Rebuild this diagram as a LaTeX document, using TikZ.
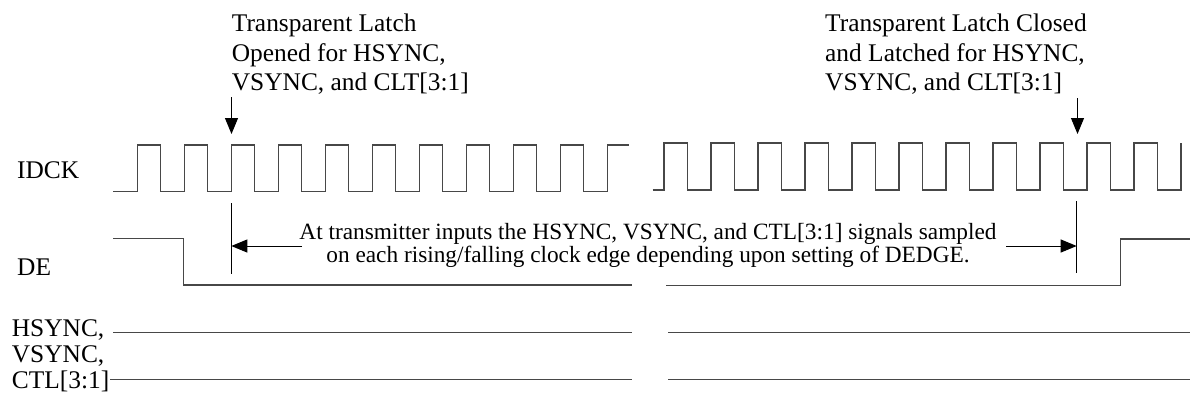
\documentclass[tikz,border=0pt]{standalone}
\usepackage{fontspec}
\setmainfont{Liberation Serif}
\usetikzlibrary{arrows.meta}
\begin{document}
\begin{tikzpicture}[x=1pt,y=-1pt,
  sig/.style={line width=1.3pt, draw=black!72, line join=miter},
  lbl/.style={font=\fontsize{25.4}{29.5}\selectfont, inner sep=0pt, align=left},
  side/.style={font=\fontsize{25.4}{26}\selectfont, inner sep=0pt, align=left},
  midtext/.style={font=\fontsize{23.3}{23}\selectfont, inner sep=0pt, align=center},
  markline/.style={line width=1pt, draw=black},
  arr/.style={-{Triangle[length=16pt,width=13pt]}, line width=1pt, draw=black}
]
\useasboundingbox (0,0) rectangle (1190,400);

% signal names
\node[lbl, anchor=west] (idck) at (17,170) {IDCK};
\node[lbl, anchor=west] (de) at (17,267) {DE};
\node[side, anchor=west] (sync) at (11.7,356) {HSYNC,\\VSYNC,\\CTL[3:1]};

% top labels (base anchor = last line baseline)
\node[lbl, anchor=base west] (open) at (231.7,90.7) {Transparent Latch\\Opened for HSYNC,\\VSYNC, and CLT[3:1]};
\node[lbl, anchor=base west] (close) at (825,90.7) {Transparent Latch Closed\\and Latched for HSYNC,\\VSYNC, and CLT[3:1]};

% IDCK left part
\draw[sig] (113.3,191.5)
  \foreach \k in {0,...,9} { -- ({137.3+47*\k},191.5) -- ({137.3+47*\k},145) -- ({160.8+47*\k},145) -- ({160.8+47*\k},191.5) }
  -- (607.3,191.5) -- (607.3,145) -- (629,145);
% IDCK right part
\draw[sig] (652.7,190)
  \foreach \k in {0,...,10} { -- ({664+47*\k},190) -- ({664+47*\k},143) -- ({687.5+47*\k},143) -- ({687.5+47*\k},190) }
  -- (1181,190) -- (1181,143);

% DE
\draw[sig] (113,238.3) -- (183.3,238.3) -- (183.3,285) -- (631.7,285);
\draw[sig] (666,285.7) -- (1120.7,285.7) -- (1120.7,239) -- (1190,239);

% HSYNC/VSYNC/CTL
\draw[sig] (113,332.7) -- (631.7,332.7);
\draw[sig] (668.3,332.7) -- (1190,332.7);
\draw[sig] (110,379.3) -- (631.7,379.3);
\draw[sig] (668.3,379.3) -- (1190,379.3);

% latch arrows
\coordinate (oa) at (231.5,97);
\coordinate (ob) at (231.5,134);
\coordinate (ca) at (1077.5,98);
\coordinate (cb) at (1077.5,134);
\draw[arr] (oa) -- (ob);
\draw[arr] (ca) -- (cb);

% marker lines
\coordinate (m1t) at (231.3,203.3);
\coordinate (m1b) at (231.3,274);
\coordinate (m2t) at (1076.7,201);
\coordinate (m2b) at (1076.7,272.7);
\draw[markline] (m1t) -- (m1b);
\draw[markline] (m2t) -- (m2b);

% middle text and arrows
\node[midtext] (note) at (648,245) {At transmitter inputs the HSYNC, VSYNC, and CTL[3:1] signals sampled\\on each rising/falling clock edge depending upon setting of DEDGE.};
\coordinate (a1s) at (302,246);
\coordinate (a1e) at (231.3,246);
\coordinate (a2s) at (1006,246);
\coordinate (a2e) at (1076.7,246);
\draw[arr] (a1s) -- (a1e);
\draw[arr] (a2s) -- (a2e);
\end{tikzpicture}
\end{document}
